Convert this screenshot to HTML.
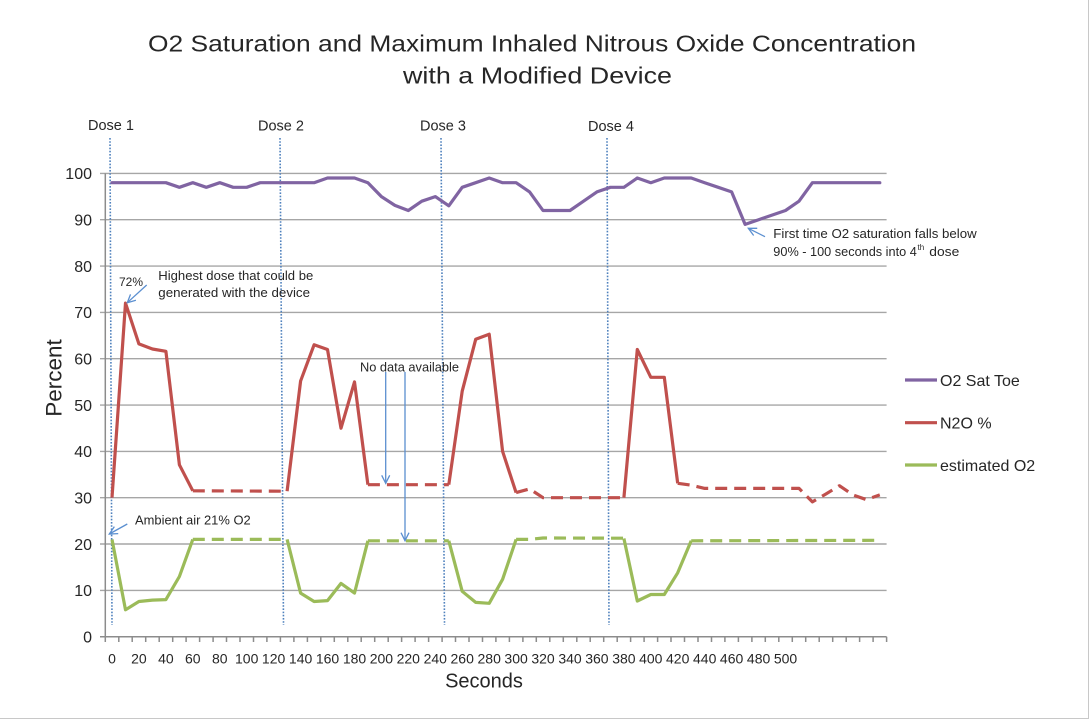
<!DOCTYPE html>
<html>
<head>
<meta charset="utf-8">
<style>
  html, body { margin: 0; padding: 0; background: #ffffff; }
  svg { display: block; }
  text { font-family: "Liberation Sans", sans-serif; fill: #262626; }
</style>
</head>
<body>
<svg width="1092" height="722" viewBox="0 0 1092 722" xmlns="http://www.w3.org/2000/svg">
  <defs>
    <marker id="ah" markerUnits="userSpaceOnUse" markerWidth="20" markerHeight="20" refX="0" refY="0" orient="auto" viewBox="-10 -10 20 20">
      <path d="M-8,-4 L0,0 L-8,4" fill="none" stroke="#5b8fd0" stroke-width="1.3"/>
    </marker>
  </defs>
  <rect x="0" y="0" width="1092" height="722" fill="#ffffff"/>
  <!-- outer border -->
  <path d="M1088.5,0 V718.5 H0" fill="none" stroke="#c8c8c8" stroke-width="1"/>

  <!-- Title -->
  <text x="532" y="51.5" font-size="23.5" text-anchor="middle" textLength="768" lengthAdjust="spacingAndGlyphs" fill="#000">O2 Saturation and Maximum Inhaled Nitrous Oxide Concentration</text>
  <text x="537.5" y="83.5" font-size="23.5" text-anchor="middle" textLength="269" lengthAdjust="spacingAndGlyphs" fill="#000">with a Modified Device</text>

  <!-- Gridlines -->
  <g stroke="#a6a6a6" stroke-width="1.4">
    <line x1="100" y1="173.4" x2="886.6" y2="173.4"/>
    <line x1="100" y1="219.7" x2="886.6" y2="219.7"/>
    <line x1="100" y1="266.1" x2="886.6" y2="266.1"/>
    <line x1="100" y1="312.4" x2="886.6" y2="312.4"/>
    <line x1="100" y1="358.7" x2="886.6" y2="358.7"/>
    <line x1="100" y1="405.1" x2="886.6" y2="405.1"/>
    <line x1="100" y1="451.4" x2="886.6" y2="451.4"/>
    <line x1="100" y1="497.7" x2="886.6" y2="497.7"/>
    <line x1="100" y1="544.0" x2="886.6" y2="544.0"/>
    <line x1="100" y1="590.4" x2="886.6" y2="590.4"/>
  </g>
  <!-- Axes -->
  <g stroke="#8c8c8c" stroke-width="1.5" fill="none">
    <line x1="105.3" y1="173.4" x2="105.3" y2="636.7"/>
    <line x1="100" y1="636.7" x2="886.6" y2="636.7"/>
    <path d="M105.3,636.7V642 M118.8,636.7V642 M132.2,636.7V642 M145.7,636.7V642 M159.2,636.7V642 M172.7,636.7V642 M186.1,636.7V642 M199.6,636.7V642 M213.1,636.7V642 M226.5,636.7V642 M240.0,636.7V642 M253.5,636.7V642 M266.9,636.7V642 M280.4,636.7V642 M293.9,636.7V642 M307.4,636.7V642 M320.8,636.7V642 M334.3,636.7V642 M347.8,636.7V642 M361.2,636.7V642 M374.7,636.7V642 M388.2,636.7V642 M401.6,636.7V642 M415.1,636.7V642 M428.6,636.7V642 M442.1,636.7V642 M455.5,636.7V642 M469.0,636.7V642 M482.5,636.7V642 M495.9,636.7V642 M509.4,636.7V642 M522.9,636.7V642 M536.3,636.7V642 M549.8,636.7V642 M563.3,636.7V642 M576.8,636.7V642 M590.2,636.7V642 M603.7,636.7V642 M617.2,636.7V642 M630.6,636.7V642 M644.1,636.7V642 M657.6,636.7V642 M671.0,636.7V642 M684.5,636.7V642 M698.0,636.7V642 M711.5,636.7V642 M724.9,636.7V642 M738.4,636.7V642 M751.9,636.7V642 M765.3,636.7V642 M778.8,636.7V642 M792.3,636.7V642 M805.7,636.7V642 M819.2,636.7V642 M832.7,636.7V642 M846.2,636.7V642 M859.6,636.7V642 M873.1,636.7V642 M886.6,636.7V642"/>
  </g>

  <!-- Y tick labels -->
  <g font-size="16" text-anchor="end">
    <text x="92" y="179.2">100</text>
    <text x="92" y="225.5">90</text>
    <text x="92" y="271.9">80</text>
    <text x="92" y="318.2">70</text>
    <text x="92" y="364.5">60</text>
    <text x="92" y="410.9">50</text>
    <text x="92" y="457.2">40</text>
    <text x="92" y="503.5">30</text>
    <text x="92" y="549.8">20</text>
    <text x="92" y="596.2">10</text>
    <text x="92" y="642.5">0</text>
  </g>

  <!-- X tick labels -->
  <g font-size="14" text-anchor="middle">
    <text x="112" y="663.5">0</text>
    <text x="138.9" y="663.5">20</text>
    <text x="165.9" y="663.5">40</text>
    <text x="192.8" y="663.5">60</text>
    <text x="219.8" y="663.5">80</text>
    <text x="246.7" y="663.5">100</text>
    <text x="273.6" y="663.5">120</text>
    <text x="300.6" y="663.5">140</text>
    <text x="327.5" y="663.5">160</text>
    <text x="354.5" y="663.5">180</text>
    <text x="381.4" y="663.5">200</text>
    <text x="408.3" y="663.5">220</text>
    <text x="435.3" y="663.5">240</text>
    <text x="462.2" y="663.5">260</text>
    <text x="489.2" y="663.5">280</text>
    <text x="516.1" y="663.5">300</text>
    <text x="543.0" y="663.5">320</text>
    <text x="570.0" y="663.5">340</text>
    <text x="596.9" y="663.5">360</text>
    <text x="623.9" y="663.5">380</text>
    <text x="650.8" y="663.5">400</text>
    <text x="677.7" y="663.5">420</text>
    <text x="704.7" y="663.5">440</text>
    <text x="731.6" y="663.5">460</text>
    <text x="758.6" y="663.5">480</text>
    <text x="785.5" y="663.5">500</text>
  </g>

  <!-- Axis titles -->
  <text x="484" y="687.5" font-size="20" text-anchor="middle" fill="#000">Seconds</text>
  <text transform="translate(61.5,378) rotate(-90)" x="0" y="0" font-size="22.5" text-anchor="middle" fill="#000">Percent</text>

  <!-- Dose lines -->
  <g stroke="#4f81bd" stroke-width="1.6" stroke-dasharray="1.6 1.6" fill="none">
    <line x1="110" y1="138" x2="112" y2="625"/>
    <line x1="280" y1="138" x2="283.5" y2="625"/>
    <line x1="441" y1="138" x2="444.5" y2="625"/>
    <line x1="607" y1="138" x2="609" y2="625"/>
  </g>
  <g font-size="14.5" fill="#262626">
    <text x="88" y="130">Dose 1</text>
    <text x="258" y="130.5">Dose 2</text>
    <text x="420" y="130.5">Dose 3</text>
    <text x="588" y="131">Dose 4</text>
  </g>

  <!-- O2 Sat Toe -->
  <polyline fill="none" stroke="#8064a2" stroke-width="3.2" stroke-linejoin="round" stroke-linecap="round"
    points="112,182.7 125.5,182.7 138.9,182.7 152.4,182.7 165.9,182.7 179.4,187.3 192.8,182.7 206.3,187.3 219.8,182.7 233.2,187.3 246.7,187.3 260.2,182.7 273.6,182.7 287.1,182.7 300.6,182.7 314.1,182.7 327.5,178.0 341.0,178.0 354.5,178.0 367.9,182.7 381.4,196.6 394.9,205.4 408.3,210.5 421.8,201.2 435.3,196.6 448.8,205.8 462.2,187.3 475.7,182.7 489.2,178.0 502.6,182.7 516.1,182.7 529.6,191.9 543.0,210.5 556.5,210.5 570.0,210.5 583.5,201.2 596.9,191.9 610.4,187.3 623.9,187.3 637.3,178.0 650.8,182.7 664.3,178.0 677.7,178.0 691.2,178.0 704.7,182.7 718.2,187.3 731.6,191.9 745.1,224.4 758.6,219.7 772.0,215.1 785.5,210.5 799.0,201.2 812.4,182.7 825.9,182.7 839.4,182.7 852.9,182.7 866.3,182.7 879.8,182.7"/>

  <!-- N2O % -->
  <g fill="none" stroke="#c0504d" stroke-width="3.2" stroke-linejoin="round">
    <polyline points="112,497.7 125.5,303.1 138.9,343.9 152.4,349.0 165.9,351.3 179.4,464.8 192.8,490.8"/>
    <polyline points="287.1,491.2 300.6,381.0 314.1,344.8 327.5,349.5 341.0,428.2 354.5,381.9 367.9,484.7"/>
    <polyline points="448.8,484.7 462.2,391.2 475.7,339.3 489.2,334.2 502.6,451.4 516.1,492.6"/>
    <polyline points="623.9,497.7 637.3,349.5 650.8,377.3 664.3,377.3 677.7,483.3"/>
    <g stroke-dasharray="12 7">
      <polyline points="192.8,490.8 287.1,491.2"/>
      <polyline points="367.9,484.7 448.8,484.7"/>
      <polyline points="516.1,492.6 529.6,488.9 543.0,497.7 623.9,497.7"/>
      <polyline points="677.7,483.3 691.2,485.2 704.7,488.4 799.0,488.4 812.4,501.9 825.9,494.0 839.4,485.7 852.9,494.9 866.3,499.6 879.8,494.9"/>
    </g>
  </g>

  <!-- estimated O2 -->
  <g fill="none" stroke="#9bbb59" stroke-width="3.2" stroke-linejoin="round">
    <polyline points="112,539.4 125.5,609.8 138.9,601.5 152.4,600.1 165.9,599.6 179.4,576.5 192.8,539.4"/>
    <polyline points="287.1,539.4 300.6,593.1 314.1,601.5 327.5,600.6 341.0,583.4 354.5,593.1 367.9,540.8"/>
    <polyline points="448.8,540.8 462.2,591.3 475.7,602.4 489.2,603.3 502.6,579.3 516.1,539.4"/>
    <polyline points="623.9,538.5 637.3,601.0 650.8,594.5 664.3,594.5 677.7,572.8 691.2,540.8"/>
    <g stroke-dasharray="12 7">
      <polyline points="192.8,539.4 287.1,539.4"/>
      <polyline points="367.9,540.8 448.8,540.8"/>
      <polyline points="516.1,539.4 529.6,539.4 543.0,538.0 623.9,538.2"/>
      <polyline points="691.2,540.8 879.8,540.3"/>
    </g>
  </g>

  <!-- Annotation arrows -->
  <g stroke="#5b8fd0" stroke-width="1.3" fill="none">
    <line x1="146.7" y1="285" x2="127.3" y2="302.7" marker-end="url(#ah)"/>
    <line x1="127.3" y1="524" x2="109.3" y2="534" marker-end="url(#ah)"/>
    <line x1="385.7" y1="372" x2="385.7" y2="483.3" marker-end="url(#ah)"/>
    <line x1="405" y1="372" x2="405" y2="540.7" marker-end="url(#ah)"/>
    <line x1="765" y1="236.7" x2="748.3" y2="228.3" marker-end="url(#ah)"/>
  </g>

  <!-- Annotation text -->
  <g font-size="12.5" fill="#333">
    <text x="119" y="286" font-size="11.5" textLength="24" lengthAdjust="spacingAndGlyphs">72%</text>
    <text x="158.3" y="280" textLength="155" lengthAdjust="spacingAndGlyphs">Highest dose that could be</text>
    <text x="158.3" y="297" textLength="151.7" lengthAdjust="spacingAndGlyphs">generated with the device</text>
    <text x="360" y="371.5" textLength="99" lengthAdjust="spacingAndGlyphs">No data available</text>
    <text x="135" y="524.5" textLength="115.7" lengthAdjust="spacingAndGlyphs">Ambient air 21% O2</text>
    <text x="773.3" y="237.8" textLength="203.4" lengthAdjust="spacingAndGlyphs">First time O2 saturation falls below</text>
    <text x="773.3" y="256" textLength="143.5" lengthAdjust="spacingAndGlyphs">90%  - 100 seconds into 4</text>
    <text x="917.5" y="250" font-size="8">th</text>
    <text x="929.3" y="256" textLength="30" lengthAdjust="spacingAndGlyphs">dose</text>
  </g>

  <!-- Legend -->
  <g stroke-width="3.2">
    <line x1="905" y1="380" x2="937" y2="380" stroke="#8064a2"/>
    <line x1="905" y1="422.7" x2="937" y2="422.7" stroke="#c0504d"/>
    <line x1="905" y1="465" x2="937" y2="465" stroke="#9bbb59"/>
  </g>
  <g font-size="16" fill="#000">
    <text x="940" y="385.8">O2 Sat Toe</text>
    <text x="940" y="428.5">N2O %</text>
    <text x="940" y="470.8">estimated O2</text>
  </g>
</svg>
</body>
</html>
